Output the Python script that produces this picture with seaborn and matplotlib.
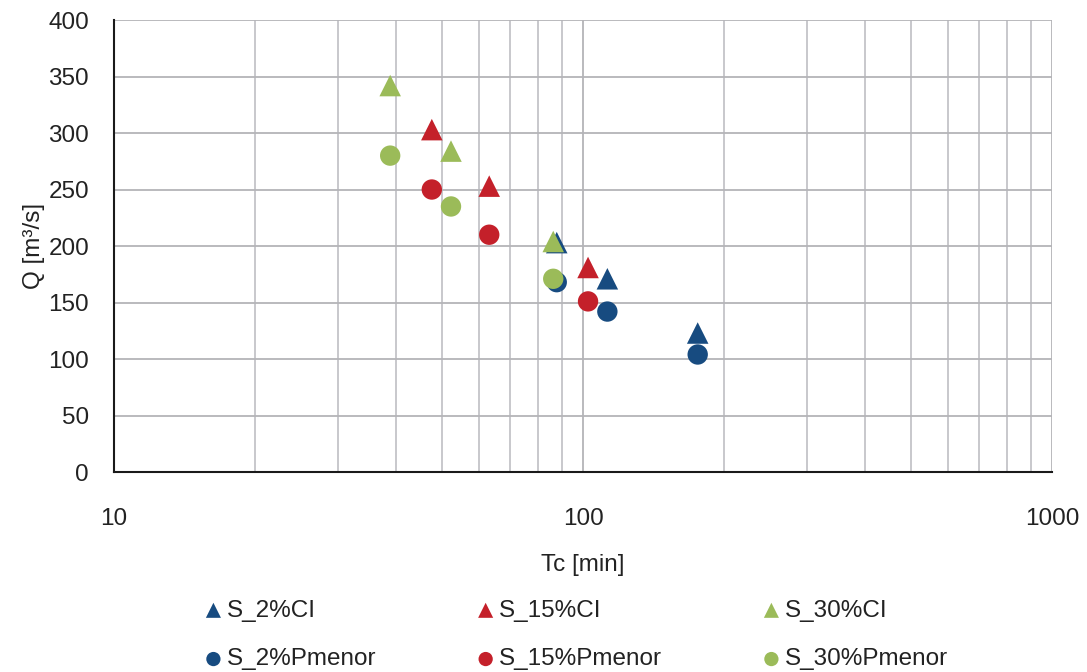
import numpy as np
import pandas as pd
import matplotlib
matplotlib.use('Agg')
import matplotlib.pyplot as plt
import seaborn as sns
from matplotlib.ticker import FixedLocator, LogLocator, NullFormatter, MultipleLocator

# data
tc_2 = [87.9, 112.7, 175.6]
q_2_ci = [203, 171, 123]
q_2_pm = [168, 142, 104]

tc_15 = [47.6, 63.1, 102.5]
q_15_ci = [303, 253, 181]
q_15_pm = [250, 210, 151]

tc_30 = [38.8, 52.3, 86.4]
q_30_ci = [342, 284, 204]
q_30_pm = [280, 235, 171]

series_names = ['S_2%CI', 'S_2%Pmenor', 'S_15%CI', 'S_15%Pmenor', 'S_30%CI', 'S_30%Pmenor']

blue = '#174B80'
red = '#C4202A'
green = '#9BBB59'

sns.set_style('white')
plt.rcParams['font.family'] = ['Liberation Sans', 'DejaVu Sans']
fs = 17.5

series = [
    (series_names[0], tc_2, q_2_ci, '^', blue),
    (series_names[1], tc_2, q_2_pm, 'o', blue),
    (series_names[2], tc_15, q_15_ci, '^', red),
    (series_names[3], tc_15, q_15_pm, 'o', red),
    (series_names[4], tc_30, q_30_ci, '^', green),
    (series_names[5], tc_30, q_30_pm, 'o', green),
]

fig = plt.figure(figsize=(10.87, 6.72), dpi=100)
ax = fig.add_axes([0.1049, 0.2976, 0.9678 - 0.1049, 0.9702 - 0.2976])

# blue first, then red, then green on top like the reference
for name, x, y, m, c in series:
    df = pd.DataFrame({'Tc': x, 'Q': y})
    sns.scatterplot(data=df, x='Tc', y='Q', ax=ax, marker=m, color=c,
                    s=240 if m == '^' else 215, edgecolor='none', label=name, zorder=3)

ax.set_xscale('log')
ax.set_xlim(10, 1000)
ax.set_ylim(0, 400)
ax.yaxis.set_major_locator(MultipleLocator(50))
ax.yaxis.set_minor_locator(MultipleLocator(10))
ax.xaxis.set_major_locator(FixedLocator([10, 100, 1000]))
ax.xaxis.set_major_formatter(matplotlib.ticker.FuncFormatter(lambda v, p: f'{int(v)}'))
ax.xaxis.set_minor_locator(LogLocator(base=10, subs=np.arange(2, 10)))
ax.xaxis.set_minor_formatter(NullFormatter())

ax.grid(True, which='major', color='#b4b4b8', linewidth=1.3)
ax.grid(True, which='minor', axis='x', color='#c4c4c8', linewidth=1.3)
ax.set_axisbelow(True)

for s in ['top', 'right']:
    ax.spines[s].set_visible(False)
for s in ['left', 'bottom']:
    ax.spines[s].set_color('#1a1a1a')
    ax.spines[s].set_linewidth(1.5)

ax.tick_params(axis='both', which='major', direction='inout', length=12, width=1.5,
               color='#1a1a1a', labelsize=fs, labelcolor='#222222')
ax.tick_params(axis='y', which='major', direction='out', length=8)
ax.tick_params(axis='both', which='minor', direction='in', length=5, width=1.3, color='#1a1a1a')
ax.tick_params(axis='x', which='major', pad=20)
ax.tick_params(axis='y', which='major', pad=10)

ax.set_xlabel('Tc [min]', fontsize=fs, color='#222222', labelpad=17)
ax.set_ylabel('Q [m³/s]', fontsize=fs, color='#222222', labelpad=2)

handles, labels = ax.get_legend_handles_labels()
ax.get_legend().remove()
leg = fig.legend(handles, labels, ncol=3, loc='center', bbox_to_anchor=(0.523, 0.055),
                 frameon=False, fontsize=fs, markerscale=0.7, handletextpad=-0.45,
                 columnspacing=3.5, labelspacing=1.1)
for t in leg.get_texts():
    t.set_color('#222222')

fig.savefig('out.png', dpi=100)
